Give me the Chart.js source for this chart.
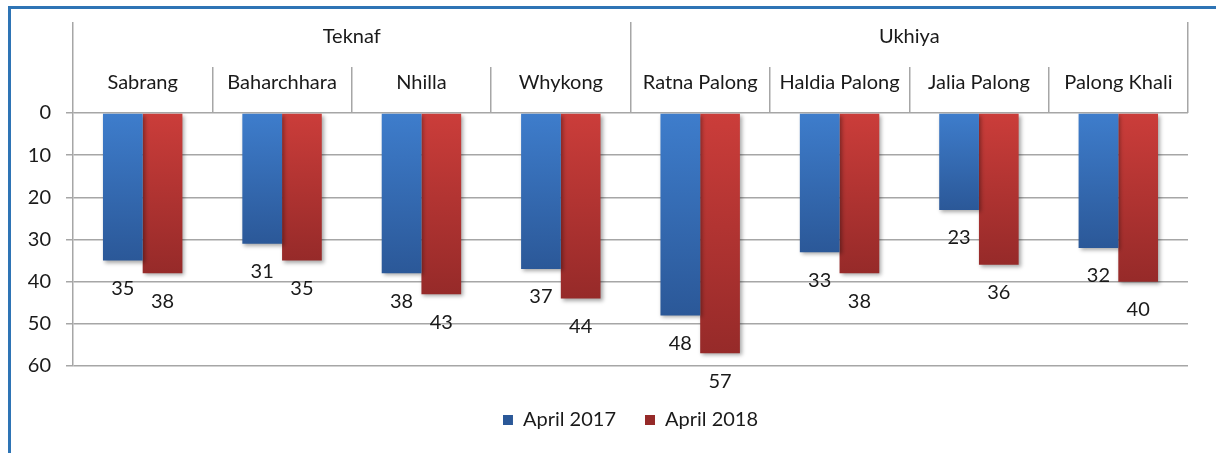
<!DOCTYPE html>
<html>
<head>
<meta charset="utf-8">
<script src="https://cdn.jsdelivr.net/npm/chart.js@4.4.1/dist/chart.umd.min.js"></script>
<style>
  html, body { margin: 0; padding: 0; background: #fff; overflow: hidden; }
  #frame { position: absolute; left: 8px; top: 6px; width: 1300px; height: 600px; border: 3px solid #2e74b5; box-sizing: border-box; }
  #chart { position: absolute; left: 0; top: 0; }
</style>
</head>
<body>
<div id="frame"></div>
<canvas id="chart" width="1216" height="453"></canvas>
<script>
const GROUPS = ['Teknaf', 'Ukhiya'];
const SITES = ['Sabrang', 'Baharchhara', 'Nhilla', 'Whykong', 'Ratna Palong', 'Haldia Palong', 'Jalia Palong', 'Palong Khali'];
const APRIL_2017 = [35, 31, 38, 37, 48, 33, 23, 32];
const APRIL_2018 = [38, 35, 43, 44, 57, 38, 36, 40];
const Y_TICKS = [0, 10, 20, 30, 40, 50, 60];

const FONT = 'Lato';
const TEXT = '#1a1a1a';
const GRID = '#a6a6a6';

const COLORS = {
  blue: { top: '#3e7dcc', bottom: '#2b5898', flat: '#3a73bd' },
  red:  { top: '#cb3d3a', bottom: '#962a29', flat: '#be3532' }
};

Chart.defaults.font.family = FONT;

function barFill(c) {
  return ctx => {
    const chart = ctx.chart;
    const y = chart.scales.y;
    if (ctx.type !== 'data' || !chart.chartArea || !y) return c.flat;
    const y0 = y.getPixelForValue(0);
    const y1 = y.getPixelForValue(ctx.raw);
    const g = chart.ctx.createLinearGradient(0, y0, 0, y1);
    g.addColorStop(0, c.top);
    g.addColorStop(1, c.bottom);
    return g;
  };
}

// bar shadow + value labels under the end of each bar
const barDecor = {
  id: 'barDecor',
  beforeDatasetsDraw(chart) {
    const c = chart.ctx;
    c.save();
    c.shadowColor = 'rgba(0,0,0,0.35)';
    c.shadowBlur = 4;
    c.shadowOffsetX = 2;
    c.shadowOffsetY = 2;
  },
  afterDatasetsDraw(chart) {
    const c = chart.ctx;
    c.restore();
    c.save();
    c.font = '20px ' + FONT;
    c.fillStyle = TEXT;
    c.textAlign = 'center';
    c.textBaseline = 'middle';
    chart.data.datasets.forEach((ds, i) => {
      chart.getDatasetMeta(i).data.forEach((bar, j) => {
        c.fillText(ds.data[j], bar.x, bar.y + 28);
      });
    });
    c.restore();
  }
};

const tickFont = { family: FONT, size: 20 };

new Chart(document.getElementById('chart').getContext('2d'), {
  type: 'bar',
  data: {
    labels: SITES,
    datasets: [
      { label: 'April 2017', data: APRIL_2017, backgroundColor: barFill(COLORS.blue), borderWidth: 0 },
      { label: 'April 2018', data: APRIL_2018, backgroundColor: barFill(COLORS.red), borderWidth: 0 }
    ]
  },
  options: {
    responsive: false,
    animation: false,
    layout: { padding: { top: 22, right: 28, bottom: 13, left: 0 } },
    datasets: { bar: { categoryPercentage: 0.57, barPercentage: 1 } },
    plugins: {
      legend: {
        position: 'bottom',
        fullSize: false,
        title: { display: true, text: '', font: { size: 10 }, padding: { top: 3, bottom: 0 } },
        labels: { boxWidth: 10, boxHeight: 10, padding: 29, color: TEXT, font: tickFont }
      },
      tooltip: { enabled: false }
    },
    scales: {
      x: {
        position: 'top',
        weight: 0,
        grid: { offset: true, drawOnChartArea: false, tickLength: 46, color: GRID, lineWidth: 1.5 },
        border: { display: false },
        ticks: { padding: -28, color: TEXT, font: tickFont, autoSkip: false, maxRotation: 0, minRotation: 0 },
        afterFit: s => { s.height = 46; }
      },
      x2: {
        type: 'category',
        labels: GROUPS,
        position: 'top',
        weight: 1,
        grid: { offset: true, drawOnChartArea: false, tickLength: 45, color: GRID, lineWidth: 1.5 },
        border: { display: false },
        ticks: { padding: -27, color: TEXT, font: tickFont, autoSkip: false, maxRotation: 0, minRotation: 0 },
        afterFit: s => { s.height = 45; }
      },
      y: {
        reverse: true,
        min: Y_TICKS[0],
        max: Y_TICKS[Y_TICKS.length - 1],
        ticks: { stepSize: Y_TICKS[1] - Y_TICKS[0], padding: 15, color: TEXT, font: tickFont },
        grid: { tickLength: 7, color: GRID, lineWidth: 1.5 },
        border: { color: GRID, width: 1.5 },
        afterFit: s => { s.width = 73; }
      }
    }
  },
  plugins: [barDecor]
});
</script>
</body>
</html>
